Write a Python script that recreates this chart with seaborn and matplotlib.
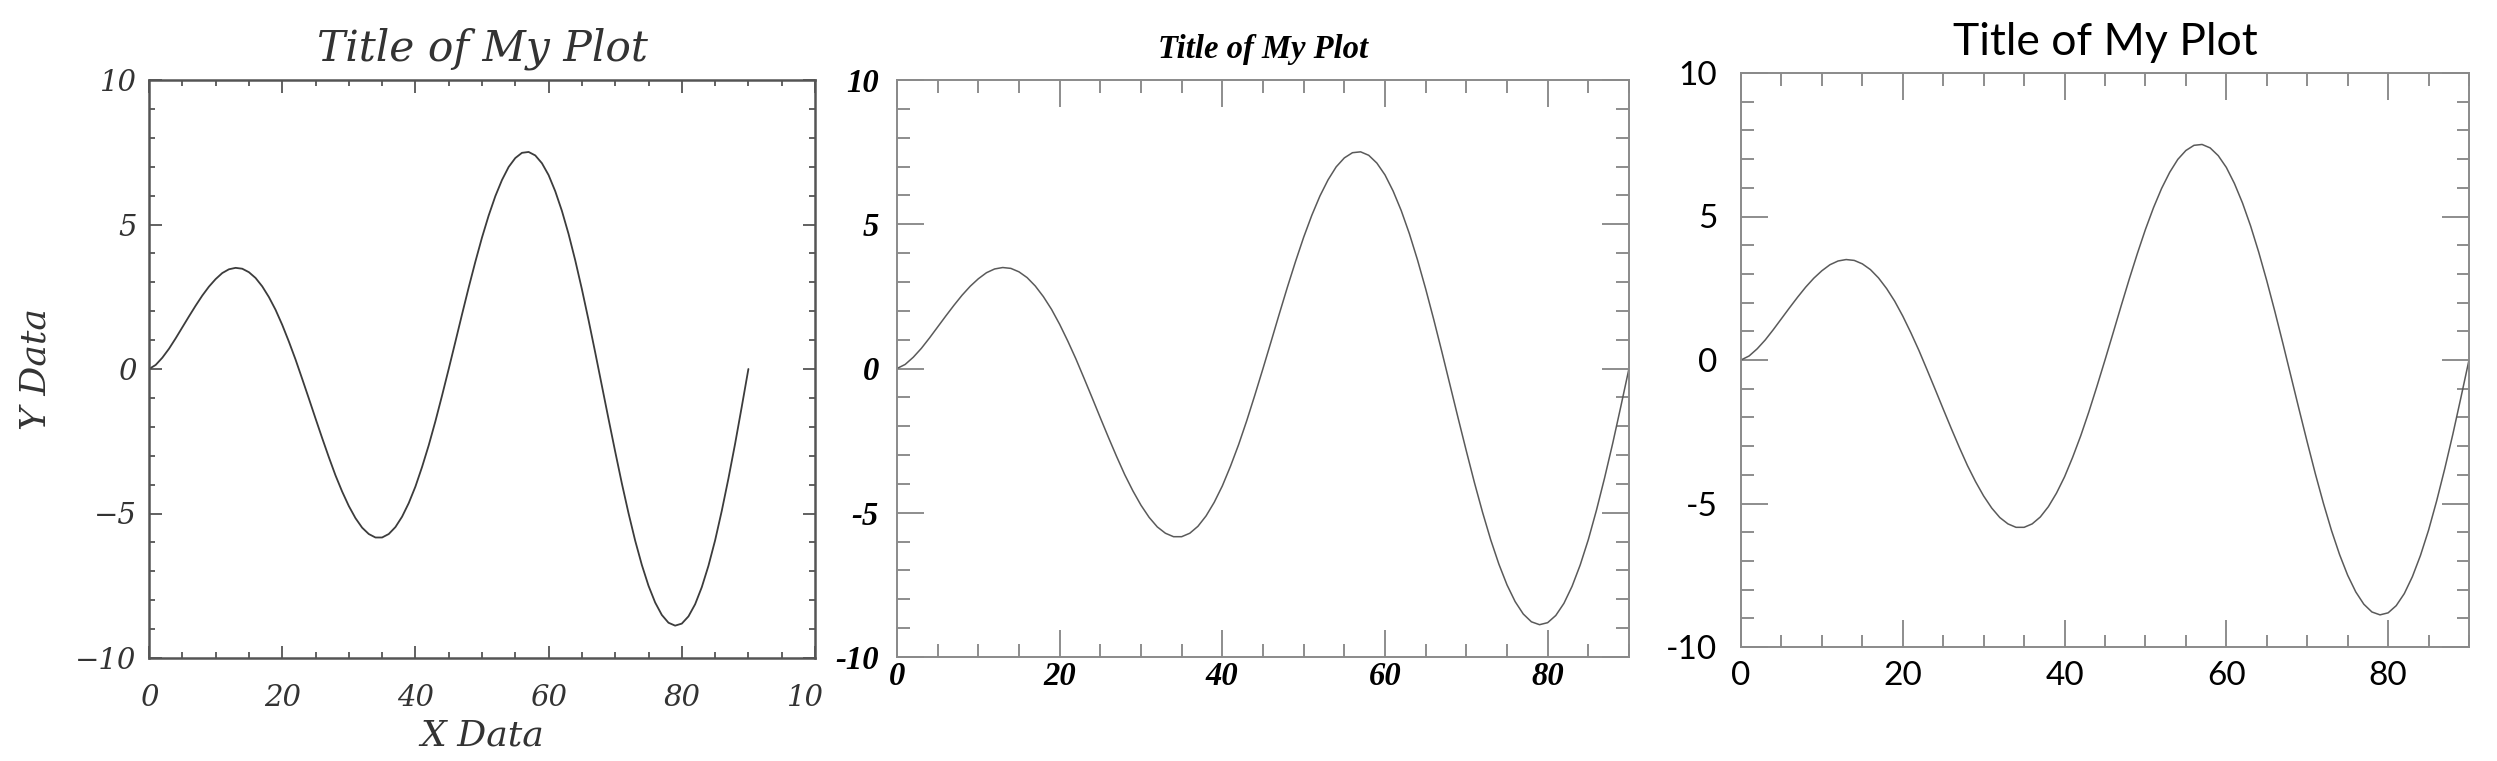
import matplotlib
matplotlib.use("Agg")
import matplotlib.pyplot as plt
from matplotlib.ticker import MultipleLocator, FuncFormatter
from matplotlib.patches import Rectangle
import seaborn as sns
import pandas as pd

# ---- data (same curve in all three panels) ----
x_data = list(range(0, 91))
y_data = [
    0.00, 0.14, 0.39, 0.70, 1.06, 1.44, 1.82, 2.19, 2.54, 2.85,
    3.11, 3.32, 3.45, 3.50, 3.47, 3.35, 3.15, 2.86, 2.49, 2.05,
    1.53, 0.95, 0.33, -0.34, -1.02, -1.71, -2.39, -3.05, -3.68, -4.24,
    -4.74, -5.16, -5.49, -5.71, -5.83, -5.83, -5.71, -5.47, -5.11, -4.64,
    -4.07, -3.39, -2.64, -1.81, -0.92, 0.00, 0.94, 1.89, 2.82, 3.71,
    4.55, 5.31, 5.98, 6.54, 6.99, 7.30, 7.48, 7.51, 7.39, 7.12,
    6.71, 6.15, 5.47, 4.67, 3.76, 2.76, 1.69, 0.57, -0.58, -1.73,
    -2.86, -3.96, -4.99, -5.94, -6.78, -7.50, -8.08, -8.51, -8.78, -8.88,
    -8.81, -8.56, -8.14, -7.55, -6.81, -5.93, -4.91, -3.79, -2.59, -1.31,
    0.00,
]
title_text = "Title of My Plot"
x_label = "X Data"
y_label = "Y Data"
xlim_1 = (0, 100)
xlim_23 = (0, 90)
ylim_all = (-10, 10)

df = pd.DataFrame({"x": x_data, "y": y_data})

sns.set_theme(style="ticks")
plt.rcParams["font.family"] = ["DejaVu Sans"]

W, H = 2497, 761
fig = plt.figure(figsize=(W / 100, H / 100), dpi=100)
fig.patch.set_facecolor("white")


def px_axes(left, right, top, bottom):
    return [left / W, (H - bottom) / H, (right - left) / W, (bottom - top) / H]


hyphen_fmt = FuncFormatter(lambda v, p: f"{v:g}".replace("\u2212", "-"))
minus_fmt = FuncFormatter(lambda v, p: f"{v:g}".replace("-", "\u2212"))

# ---------------- Panel 1 ----------------
ax1 = fig.add_axes(px_axes(149, 815, 80, 658))
sns.lineplot(data=df, x="x", y="y", ax=ax1, color="#3c3c3c", linewidth=1.3)
ax1.set_xlim(*xlim_1)
ax1.set_ylim(*ylim_all)
ax1.xaxis.set_major_locator(MultipleLocator(20))
ax1.xaxis.set_minor_locator(MultipleLocator(5))
ax1.yaxis.set_major_locator(MultipleLocator(5))
ax1.yaxis.set_minor_locator(MultipleLocator(1))
ax1.xaxis.set_major_formatter(minus_fmt)
ax1.yaxis.set_major_formatter(minus_fmt)
f1 = dict(family="DejaVu Serif", style="italic")
ax1.tick_params(which="both", direction="in", top=True, right=True,
                color="#555555", width=1.3)
ax1.tick_params(which="major", length=9, labelsize=21)
ax1.tick_params(axis="x", which="major", pad=19)
ax1.tick_params(axis="y", which="major", pad=9)
ax1.tick_params(which="minor", length=4.5)
for lab in ax1.get_xticklabels() + ax1.get_yticklabels():
    lab.set_fontfamily("DejaVu Serif")
    lab.set_fontstyle("italic")
    lab.set_color("#333333")
for s in ax1.spines.values():
    s.set_color("#555555")
    s.set_linewidth(1.8)
ax1.set_title(title_text, fontsize=30.5, pad=14, color="#333333", **f1)
ax1.set_xlabel(x_label, fontsize=26, color="#333333", **f1)
ax1.set_ylabel(y_label, fontsize=26, color="#333333", **f1)
ax1.xaxis.set_label_coords(0.5, -0.105)
ax1.yaxis.set_label_coords(-0.145, 0.5)

# ---------------- Panel 2 ----------------
ax2 = fig.add_axes(px_axes(897, 1629, 80, 657))
sns.lineplot(data=df, x="x", y="y", ax=ax2, color="#5a5a5a", linewidth=1.1)
ax2.set_xlim(*xlim_23)
ax2.set_ylim(*ylim_all)
ax2.xaxis.set_major_locator(MultipleLocator(20))
ax2.xaxis.set_minor_locator(MultipleLocator(5))
ax2.yaxis.set_major_locator(MultipleLocator(5))
ax2.yaxis.set_minor_locator(MultipleLocator(1))
ax2.xaxis.set_major_formatter(hyphen_fmt)
ax2.yaxis.set_major_formatter(hyphen_fmt)
ax2.tick_params(which="both", direction="in", top=True, right=True,
                color="#7a7a7a", width=1.2)
ax2.tick_params(which="major", length=19.5, labelsize=23.5)
ax2.tick_params(axis="x", which="major", pad=3)
ax2.tick_params(axis="y", which="major", pad=13)
ax2.tick_params(which="minor", length=9.5)
for lab in ax2.get_xticklabels() + ax2.get_yticklabels():
    lab.set_fontfamily("Liberation Serif")
    lab.set_fontstyle("italic")
    lab.set_fontweight("bold")
    lab.set_color("black")
for s in ax2.spines.values():
    s.set_color("#8a8a8a")
    s.set_linewidth(1.4)
ax2.set_title(title_text, fontsize=23.5, pad=16, family="Liberation Serif",
              style="italic", weight="bold", color="black")
ax2.set_xlabel("")
ax2.set_ylabel("")

# ---------------- Panel 3 ----------------
ax3 = fig.add_axes(px_axes(1741, 2469, 73, 647))
sns.lineplot(data=df, x="x", y="y", ax=ax3, color="#5a5a5a", linewidth=1.1)
ax3.set_xlim(*xlim_23)
ax3.set_ylim(*ylim_all)
ax3.xaxis.set_major_locator(MultipleLocator(20))
ax3.xaxis.set_minor_locator(MultipleLocator(5))
ax3.yaxis.set_major_locator(MultipleLocator(5))
ax3.yaxis.set_minor_locator(MultipleLocator(1))
ax3.xaxis.set_major_formatter(hyphen_fmt)
ax3.yaxis.set_major_formatter(hyphen_fmt)
ax3.tick_params(which="both", direction="in", top=True, right=True,
                color="#7a7a7a", width=1.2)
ax3.tick_params(which="major", length=19.5, labelsize=24)
ax3.tick_params(axis="x", which="major", pad=10)
ax3.tick_params(axis="y", which="major", pad=17)
ax3.tick_params(which="minor", length=9)
for lab in ax3.get_xticklabels() + ax3.get_yticklabels():
    lab.set_fontfamily("Lato")
    lab.set_fontweight("normal")
    lab.set_color("black")
for s in ax3.spines.values():
    s.set_color("#8a8a8a")
    s.set_linewidth(1.4)
ax3.set_title(title_text, fontsize=32, pad=13, family="Lato",
              weight="normal", color="black")
ax3.set_xlabel("")
ax3.set_ylabel("")

# the reference panels are cropped side by side: panel 1's last x label is cut
fig.patches.append(Rectangle((824 / W, 40 / H), 22 / W, 50 / H,
                             transform=fig.transFigure, facecolor="white",
                             edgecolor="none", zorder=20))

fig.savefig("out.png", dpi=100, facecolor="white")
